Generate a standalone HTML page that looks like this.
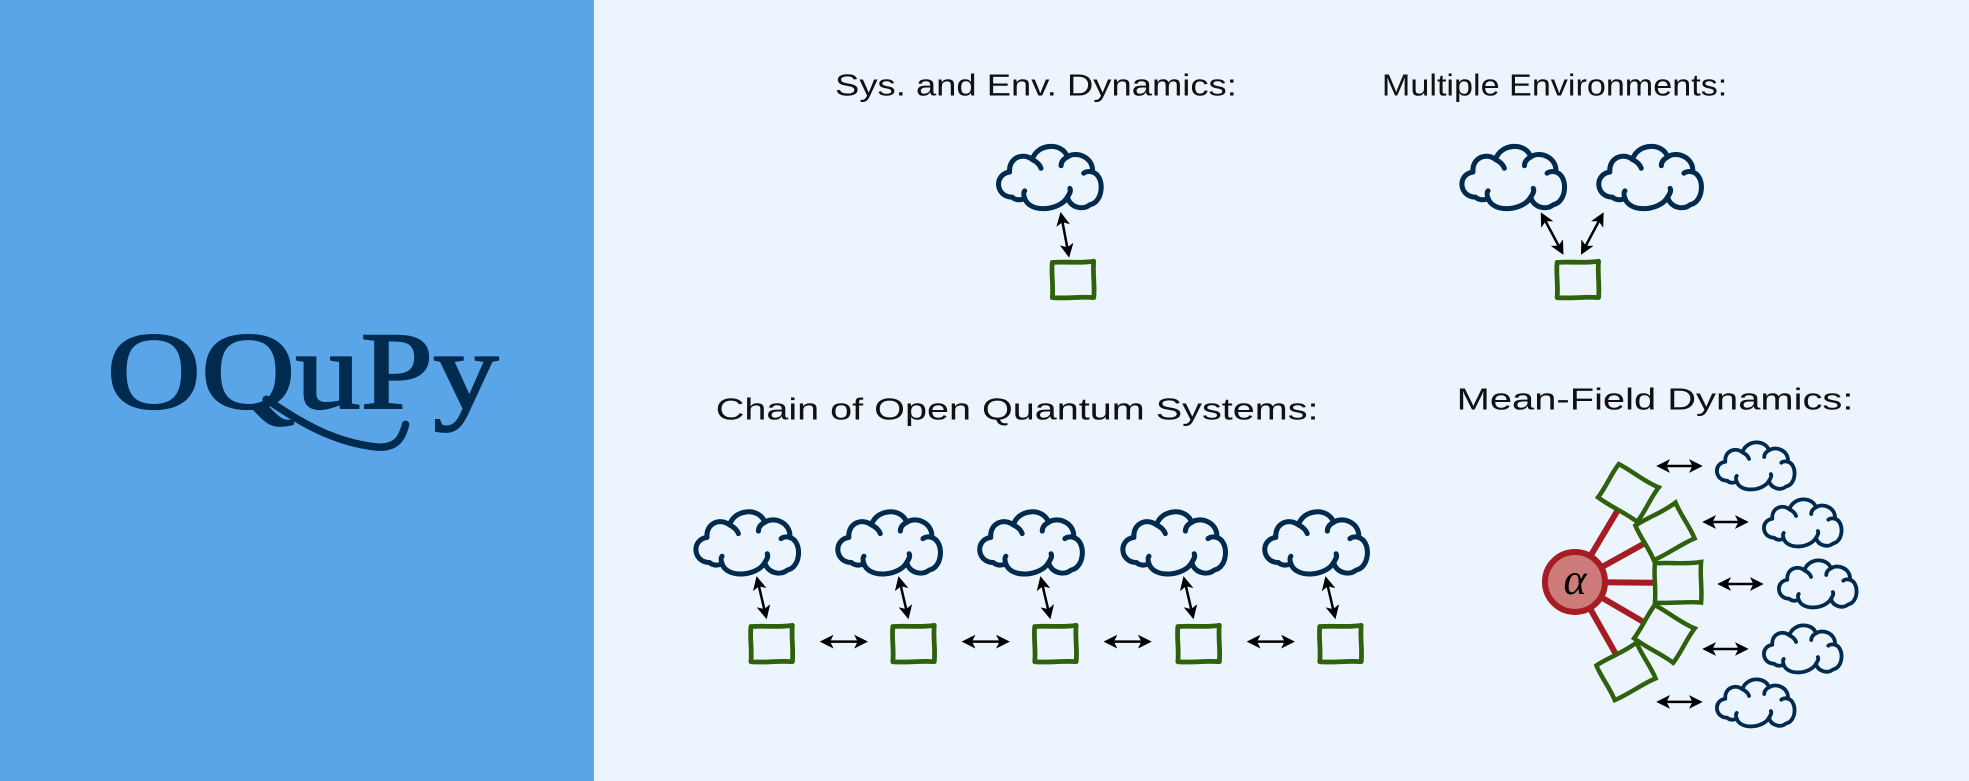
<!DOCTYPE html>
<html><head><meta charset="utf-8"><style>
html,body{margin:0;padding:0;}
body{width:1969px;height:781px;overflow:hidden;background:#ecf4fd;}
svg{display:block;}
</style></head><body>
<svg width="1969" height="781" viewBox="0 0 1568 622" preserveAspectRatio="none" xmlns="http://www.w3.org/2000/svg">
<defs>
<marker id="ah" viewBox="0 0 10 10" refX="8" refY="5" markerWidth="5.5" markerHeight="5.5" orient="auto-start-reverse" markerUnits="strokeWidth">
<path d="M0,0 L10,5 L0,10 L2.5,5 Z" fill="#000"/>
</marker>
<g id="cloud" fill="none" stroke="#002a4e" stroke-width="4" stroke-linecap="round" stroke-linejoin="round">
<path d="M16,44 C3,44 1,26 14,24 C13,13 24,8 32,14 C36,1 56,0 60,12 C67,7 81,12 80,24 C90,27 89,48 78,50 C72,55 62,52 60,44 C54,55 30,57 26,45 C22,47 18,46 16,44 Z"/>
<path d="M32,14 C36,16 38,18 39,21"/>
<path d="M60,12 C56,14 55,17 55,19"/>
<path d="M80,24 C77,23 74,24 73,25"/>
<path d="M26,45 C25,42 25,40 26,39"/>
<path d="M60,44 C62,41 63,39 62,37"/>
</g>
<g id="sq" fill="none" stroke="#2f600c" stroke-width="3.8" stroke-linejoin="round">
<path d="M2,2 C12,1 24,3 35,1 C34,11 36,20 35,30 C24,29 13,31 2,30 C3,20 1,11 2,2 Z"/>
</g>
<path id="sqp" d="M2,2 C12,1 24,3 35,1 C34,11 36,20 35,30 C24,29 13,31 2,30 C3,20 1,11 2,2 Z"/>
</defs>
<rect x="0" y="0" width="473" height="622" fill="#5aa5e8"/>
<rect x="473" y="0" width="1095" height="622" fill="#ecf4fd"/>

<!-- Logo -->
<text x="85" y="325" font-family="Liberation Serif, serif" font-size="88" fill="#002a4e" stroke="#002a4e" stroke-width="1.5" textLength="312" lengthAdjust="spacingAndGlyphs">OQuPy</text>
<path d="M212,318 C235,333 262,352 300,356 C315,357 320,350 323,338" fill="none" stroke="#002a4e" stroke-width="6" stroke-linecap="round"/>

<!-- Titles -->
<g font-family="Liberation Sans, sans-serif" font-size="24" fill="#111">
<text x="825" y="76" text-anchor="middle" textLength="320" lengthAdjust="spacingAndGlyphs">Sys. and Env. Dynamics:</text>
<text x="1238" y="76" text-anchor="middle" textLength="275" lengthAdjust="spacingAndGlyphs">Multiple Environments:</text>
<text x="810" y="334" text-anchor="middle" textLength="480" lengthAdjust="spacingAndGlyphs">Chain of Open Quantum Systems:</text>
<text x="1318" y="326" text-anchor="middle" textLength="316" lengthAdjust="spacingAndGlyphs">Mean-Field Dynamics:</text>
</g>

<g stroke="#000" stroke-width="2" fill="none">
<line x1="845" y1="171" x2="851" y2="203" marker-start="url(#ah)" marker-end="url(#ah)"/>
<line x1="1228" y1="171" x2="1244" y2="201" marker-start="url(#ah)" marker-end="url(#ah)"/>
<line x1="1276" y1="171" x2="1260" y2="201" marker-start="url(#ah)" marker-end="url(#ah)"/>
</g>
<use href="#cloud" x="790" y="113"/>
<use href="#sq" x="836" y="207"/>
<use href="#cloud" x="1159" y="113"/>
<use href="#cloud" x="1268" y="113"/>
<use href="#sq" x="1238" y="207"/>

<!-- Chain -->
<g id="unit">
<use href="#cloud" x="549" y="404"/>
<use href="#sq" x="596" y="497"/>
<line x1="603" y1="461" x2="610" y2="491" stroke="#000" stroke-width="2" marker-start="url(#ah)" marker-end="url(#ah)"/>
</g>
<use href="#unit" x="113"/>
<use href="#unit" x="226"/>
<use href="#unit" x="340"/>
<use href="#unit" x="453"/>
<g stroke="#000" stroke-width="2">
<line x1="655" y1="511" x2="689" y2="511" marker-start="url(#ah)" marker-end="url(#ah)"/>
<line x1="768" y1="511" x2="802" y2="511" marker-start="url(#ah)" marker-end="url(#ah)"/>
<line x1="881" y1="511" x2="915" y2="511" marker-start="url(#ah)" marker-end="url(#ah)"/>
<line x1="995" y1="511" x2="1029" y2="511" marker-start="url(#ah)" marker-end="url(#ah)"/>
</g>

<!-- Mean field (original coords) -->
<g transform="scale(0.79634)">
<g stroke="#a51d22" stroke-width="6">
<line x1="1575" y1="582" x2="1628" y2="493"/>
<line x1="1575" y1="582" x2="1665" y2="532"/>
<line x1="1575" y1="582" x2="1678" y2="583"/>
<line x1="1575" y1="582" x2="1664" y2="634"/>
<line x1="1575" y1="582" x2="1626" y2="672"/>
</g>
<circle cx="1575" cy="582" r="30" fill="#cd7a7a" stroke="#a51d22" stroke-width="6"/>
<text x="1575" y="594" text-anchor="middle" font-family="Liberation Serif, serif" font-style="italic" font-size="44" fill="#000">α</text>
<g fill="#ecf4fd" stroke="#2f600c" stroke-width="3.2">
<use href="#sqp" transform="translate(1628,493) rotate(32) scale(1.4) translate(-18.5,-16)"/>
<use href="#sqp" transform="translate(1665,532) rotate(-28) scale(1.4) translate(-18.5,-16)"/>
<use href="#sqp" transform="translate(1678,583) scale(1.4) translate(-18.5,-16)"/>
<use href="#sqp" transform="translate(1664,634) rotate(32) scale(1.4) translate(-18.5,-16)"/>
<use href="#sqp" transform="translate(1626,672) rotate(-28) scale(1.4) translate(-18.5,-16)"/>
</g>
<g stroke="#000" stroke-width="2.5">
<line x1="1659" y1="466" x2="1700" y2="466" marker-start="url(#ah)" marker-end="url(#ah)"/>
<line x1="1705" y1="522" x2="1746" y2="522" marker-start="url(#ah)" marker-end="url(#ah)"/>
<line x1="1720" y1="584" x2="1761" y2="584" marker-start="url(#ah)" marker-end="url(#ah)"/>
<line x1="1705" y1="649" x2="1746" y2="649" marker-start="url(#ah)" marker-end="url(#ah)"/>
<line x1="1659" y1="702" x2="1700" y2="702" marker-start="url(#ah)" marker-end="url(#ah)"/>
</g>
<use href="#cloud" transform="translate(1712,439) scale(0.95)"/>
<use href="#cloud" transform="translate(1759,496) scale(0.95)"/>
<use href="#cloud" transform="translate(1774,557) scale(0.95)"/>
<use href="#cloud" transform="translate(1759,622) scale(0.95)"/>
<use href="#cloud" transform="translate(1712,676) scale(0.95)"/>
</g>
</svg>
</body></html>
